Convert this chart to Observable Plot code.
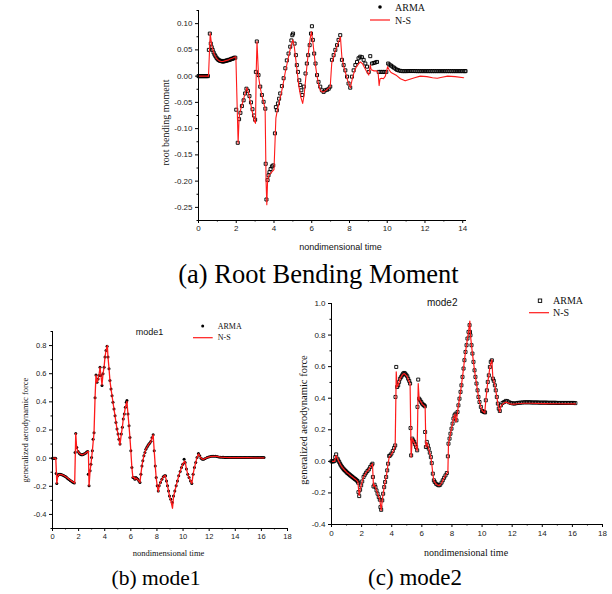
<!DOCTYPE html>
<html><head><meta charset="utf-8">
<script src="https://cdn.jsdelivr.net/npm/d3@7"></script>
<script src="https://cdn.jsdelivr.net/npm/@observablehq/plot@0.6"></script>
<style>
body{margin:0;background:#fff}
#fig{position:relative;width:612px;height:594px;background:#fff;overflow:hidden}
.panel{position:absolute}
</style></head><body><div id="fig"></div>
<script>
// ---------- series names ----------
const seriesNames = ["ARMA", "N-S"];
const captions = ["(a) Root Bending Moment", "(b) mode1", "(c) mode2"];
const panelTitles = ["", "mode1", "mode2"];
const xTitle = "nondimensional time";
const yTitles = ["root bending moment", "generalized aerodynamic force", "generalized aerodynamic force"];

// ---------- tick values ----------
const xTicksA = [0, 2, 4, 6, 8, 10, 12, 14];
const xMinorA = [1, 3, 5, 7, 9, 11, 13];
const yTicksA = [-0.25, -0.20, -0.15, -0.10, -0.05, 0.00, 0.05, 0.10];
const yMinorA = [-0.275, -0.225, -0.175, -0.125, -0.075, -0.025, 0.025, 0.075, 0.125];
const xTicksBC = [0, 2, 4, 6, 8, 10, 12, 14, 16, 18];
const xMinorBC = [1, 3, 5, 7, 9, 11, 13, 15, 17];
const yTicksB = [-0.4, -0.2, 0.0, 0.2, 0.4, 0.6, 0.8];
const yMinorB = [-0.5, -0.3, -0.1, 0.1, 0.3, 0.5, 0.7, 0.9];
const yTicksC = [-0.4, -0.2, 0.0, 0.2, 0.4, 0.6, 0.8, 1.0];
const yMinorC = [-0.3, -0.1, 0.1, 0.3, 0.5, 0.7, 0.9];
const xDomainA = [0, 14.2], yDomainA = [-0.275, 0.125];
const xDomainB = [0, 18], yDomainB = [-0.5, 0.9];
const xDomainC = [0, 18], yDomainC = [-0.4, 1.0];

// ---------- (a) root bending moment ----------
const nsA = [[0,0],[0.53,0],[0.62,0.082],[0.7,0.058],[0.8,0.045],[0.9,0.037],[1.0,0.032],[1.1,0.029],[1.2,0.028],[1.3,0.028],[1.4,0.029],[1.5,0.03],[1.6,0.031],[1.7,0.033],[1.8,0.034],[1.9,0.036],[1.98,0.037],[2.05,-0.06],[2.1,-0.128],[2.15,-0.08],[2.2,-0.068],[2.3,-0.055],[2.4,-0.042],[2.5,-0.03],[2.56,-0.022],[2.65,-0.032],[2.75,-0.05],[2.85,-0.068],[2.95,-0.085],[3.02,-0.09],[3.06,0.01],[3.1,0.066],[3.18,0.0],[3.27,-0.022],[3.36,-0.037],[3.45,-0.05],[3.53,-0.062],[3.58,-0.2],[3.62,-0.245],[3.66,-0.2],[3.72,-0.19],[3.8,-0.186],[3.9,-0.182],[4.0,-0.178],[4.06,-0.12],[4.1,-0.08],[4.15,-0.07],[4.22,-0.058],[4.3,-0.045],[4.4,-0.03],[4.5,-0.012],[4.6,0.008],[4.7,0.025],[4.8,0.042],[4.9,0.058],[5.0,0.069],[5.08,0.055],[5.16,0.03],[5.24,0.005],[5.32,-0.02],[5.42,-0.04],[5.52,-0.052],[5.6,-0.035],[5.68,-0.005],[5.76,0.025],[5.84,0.05],[5.92,0.072],[5.98,0.085],[6.05,0.068],[6.12,0.045],[6.2,0.02],[6.28,0.0],[6.36,-0.015],[6.45,-0.027],[6.55,-0.03],[6.65,-0.03],[6.75,-0.027],[6.85,-0.024],[6.98,-0.02],[7.06,0.025],[7.15,0.035],[7.25,0.048],[7.35,0.058],[7.45,0.068],[7.52,0.075],[7.6,0.035],[7.7,0.018],[7.8,0.005],[7.9,-0.008],[8.0,-0.018],[8.05,-0.022],[8.15,-0.005],[8.25,0.008],[8.35,0.017],[8.45,0.022],[8.57,0.027],[8.68,0.024],[8.8,0.016],[8.92,0.008],[9.02,0.002],[9.1,0.021],[9.15,0.012],[9.3,0.01],[9.45,0.01],[9.52,0.005],[9.57,-0.018],[9.62,-0.005],[9.7,-0.004],[9.8,-0.005],[9.9,0.0],[10.02,0.018],[10.1,0.012],[10.2,0.007],[10.35,0.004],[10.5,0.001],[10.7,-0.005],[10.95,-0.009],[11.2,-0.006],[11.45,-0.003],[11.75,0.0],[12.1,-0.001],[12.4,-0.003],[12.65,-0.004],[12.9,-0.002],[13.2,0.0],[13.6,-0.001],[14.05,-0.003]];
const armaA = [[0,0],[0.05,0],[0.1,0],[0.15,0],[0.2,0],[0.25,0],[0.3,0],[0.35,0],[0.4,0],[0.45,0],[0.5,0],[0.55,0.05],[0.6,0.081],[0.65,0.062],[0.7,0.055],[0.75,0.05],[0.8,0.045],[0.85,0.041],[0.9,0.038],[0.95,0.035],[1.0,0.033],[1.05,0.031],[1.1,0.03],[1.15,0.029],[1.2,0.029],[1.25,0.028],[1.3,0.028],[1.35,0.028],[1.4,0.029],[1.45,0.029],[1.5,0.03],[1.55,0.03],[1.6,0.031],[1.65,0.031],[1.7,0.032],[1.75,0.033],[1.8,0.033],[1.85,0.034],[1.9,0.035],[1.95,0.035],[2.0,-0.064],[2.08,-0.127],[2.15,-0.082],[2.22,-0.07],[2.3,-0.057],[2.39,-0.046],[2.47,-0.033],[2.54,-0.024],[2.62,-0.028],[2.7,-0.038],[2.78,-0.05],[2.86,-0.063],[2.94,-0.075],[3.0,-0.083],[3.04,0.008],[3.09,0.066],[3.18,0.002],[3.27,-0.02],[3.36,-0.036],[3.45,-0.049],[3.54,-0.062],[3.56,-0.167],[3.6,-0.235],[3.66,-0.198],[3.71,-0.189],[3.76,-0.183],[3.82,-0.177],[3.89,-0.172],[3.96,-0.17],[4.05,-0.109],[4.1,-0.059],[4.15,-0.065],[4.21,-0.052],[4.27,-0.043],[4.33,-0.033],[4.42,-0.019],[4.51,-0.004],[4.6,0.015],[4.68,0.03],[4.77,0.043],[4.86,0.056],[4.92,0.068],[4.97,0.078],[5.01,0.081],[5.09,0.062],[5.16,0.04],[5.21,0.021],[5.27,0.008],[5.34,-0.008],[5.39,-0.017],[5.45,-0.027],[5.5,-0.036],[5.58,-0.02],[5.67,0.005],[5.74,0.024],[5.81,0.04],[5.89,0.059],[5.96,0.081],[6.01,0.095],[6.06,0.069],[6.13,0.043],[6.2,0.024],[6.28,0.002],[6.36,-0.011],[6.45,-0.02],[6.54,-0.027],[6.63,-0.03],[6.72,-0.027],[6.81,-0.026],[6.9,-0.024],[6.98,-0.02],[7.07,0.031],[7.16,0.04],[7.25,0.05],[7.34,0.059],[7.42,0.069],[7.51,0.078],[7.6,0.031],[7.69,0.021],[7.78,0.011],[7.87,-0.001],[7.95,-0.014],[8.04,-0.022],[8.13,-0.001],[8.22,0.011],[8.31,0.021],[8.4,0.027],[8.48,0.034],[8.57,0.037],[8.66,0.036],[8.75,0.031],[8.84,0.024],[8.93,0.018],[9.02,0.008],[9.1,0.038],[9.19,0.024],[9.28,0.025],[9.37,0.026],[9.46,0.027],[9.55,0.008],[9.65,0.008],[9.75,0.008],[9.85,0.008],[9.95,0.008],[10.05,0.024],[10.12,0.022],[10.2,0.02],[10.28,0.018],[10.36,0.016],[10.44,0.014],[10.52,0.012],[10.6,0.011],[10.7,0.01],[10.8,0.0095],[10.9,0.0095],[11.0,0.0095],[11.1,0.0096],[11.2,0.0097],[11.3,0.0097],[11.4,0.0097],[11.5,0.0096],[11.6,0.0095],[11.7,0.0095],[11.8,0.0095],[11.9,0.0095],[12.0,0.0095],[12.1,0.0095],[12.2,0.0095],[12.3,0.0095],[12.4,0.0095],[12.5,0.0095],[12.6,0.0095],[12.7,0.0095],[12.8,0.0095],[12.9,0.0095],[13.0,0.0095],[13.1,0.0095],[13.2,0.0095],[13.3,0.0095],[13.4,0.0095],[13.5,0.0095],[13.6,0.0095],[13.7,0.0095],[13.8,0.0095],[13.9,0.0095],[14.0,0.0095],[14.1,0.0095],[14.15,0.0095]];

// ---------- (b) mode1 ----------
const nsB = [[0,0],[0.25,0],[0.3,-0.11],[0.33,-0.18],[0.4,-0.13],[0.5,-0.115],[0.7,-0.117],[0.9,-0.125],[1.1,-0.138],[1.3,-0.152],[1.5,-0.165],[1.7,-0.177],[1.75,0.04],[1.78,0.176],[1.85,0.076],[1.95,0.045],[2.1,0.03],[2.3,0.024],[2.5,0.033],[2.7,0.048],[2.75,0.048],[2.8,-0.197],[2.88,-0.09],[2.95,-0.04],[3.05,0.05],[3.18,0.18],[3.26,0.43],[3.33,0.59],[3.41,0.54],[3.49,0.56],[3.56,0.59],[3.64,0.646],[3.72,0.58],[3.79,0.52],[3.87,0.6],[3.95,0.646],[4.02,0.718],[4.1,0.765],[4.2,0.8],[4.25,0.72],[4.33,0.635],[4.4,0.551],[4.48,0.492],[4.56,0.444],[4.63,0.397],[4.71,0.349],[4.79,0.302],[4.86,0.254],[4.94,0.207],[5.02,0.171],[5.09,0.135],[5.17,0.095],[5.27,0.171],[5.35,0.219],[5.42,0.278],[5.5,0.314],[5.58,0.361],[5.7,0.404],[5.78,0.314],[5.86,0.23],[5.93,0.147],[6.0,0.052],[6.08,-0.067],[6.16,-0.138],[6.25,-0.135],[6.31,-0.15],[6.39,-0.14],[6.5,-0.15],[6.62,-0.162],[6.7,-0.173],[6.77,-0.114],[6.85,-0.055],[6.92,-0.019],[7.0,0.017],[7.08,0.04],[7.15,0.064],[7.26,0.081],[7.38,0.1],[7.51,0.112],[7.64,0.147],[7.71,0.166],[7.79,0.052],[7.87,-0.055],[7.94,-0.138],[8.02,-0.197],[8.1,-0.238],[8.17,-0.197],[8.27,-0.173],[8.38,-0.15],[8.48,-0.133],[8.62,-0.121],[8.73,-0.162],[8.81,-0.197],[8.89,-0.233],[8.96,-0.269],[9.06,-0.3],[9.19,-0.356],[9.27,-0.275],[9.37,-0.235],[9.47,-0.197],[9.57,-0.162],[9.67,-0.126],[9.78,-0.095],[9.88,-0.067],[9.98,-0.043],[10.12,-0.02],[10.18,-0.035],[10.26,-0.078],[10.36,-0.114],[10.46,-0.138],[10.57,-0.162],[10.68,-0.18],[10.77,-0.114],[10.87,-0.067],[10.97,-0.031],[11.07,0.005],[11.18,0.03],[11.28,0.015],[11.38,0.0],[11.48,-0.007],[11.58,-0.008],[11.7,-0.002],[11.84,0.004],[12.09,0.011],[12.35,0.013],[12.6,0.012],[12.86,0.007],[13.2,0.005],[13.6,0.004],[14.0,0.004],[14.5,0.003],[15.0,0.003],[15.5,0.002],[16.2,0.002]];
const armaB = [[0,0],[0.08,0],[0.16,0],[0.24,0],[0.28,-0.11],[0.33,-0.18],[0.4,-0.126],[0.5,-0.114],[0.58,-0.114],[0.66,-0.116],[0.76,-0.119],[0.85,-0.124],[0.94,-0.129],[1.02,-0.133],[1.1,-0.14],[1.18,-0.146],[1.27,-0.152],[1.36,-0.158],[1.45,-0.164],[1.53,-0.169],[1.6,-0.173],[1.67,-0.176],[1.73,0.04],[1.78,0.176],[1.86,0.076],[1.96,0.048],[2.05,0.035],[2.13,0.028],[2.21,0.025],[2.29,0.024],[2.37,0.027],[2.45,0.031],[2.55,0.036],[2.62,0.043],[2.7,0.048],[2.74,-0.114],[2.8,-0.197],[2.88,-0.09],[2.94,-0.043],[2.99,0.005],[3.05,0.052],[3.11,0.135],[3.18,0.18],[3.26,0.43],[3.33,0.59],[3.41,0.54],[3.49,0.563],[3.56,0.587],[3.64,0.646],[3.71,0.587],[3.79,0.516],[3.87,0.6],[3.95,0.646],[4.02,0.718],[4.1,0.765],[4.18,0.796],[4.25,0.718],[4.33,0.635],[4.4,0.551],[4.48,0.492],[4.56,0.444],[4.63,0.397],[4.71,0.349],[4.79,0.302],[4.86,0.254],[4.94,0.207],[5.02,0.171],[5.09,0.135],[5.17,0.1],[5.27,0.171],[5.35,0.219],[5.42,0.278],[5.5,0.314],[5.58,0.361],[5.65,0.397],[5.7,0.409],[5.78,0.314],[5.86,0.23],[5.93,0.147],[6.0,0.052],[6.08,-0.067],[6.16,-0.138],[6.23,-0.138],[6.31,-0.15],[6.39,-0.138],[6.47,-0.145],[6.55,-0.152],[6.62,-0.162],[6.7,-0.173],[6.77,-0.114],[6.85,-0.055],[6.92,-0.019],[7.0,0.017],[7.08,0.04],[7.15,0.064],[7.23,0.078],[7.31,0.09],[7.38,0.1],[7.46,0.108],[7.54,0.12],[7.62,0.145],[7.71,0.166],[7.79,0.052],[7.87,-0.055],[7.94,-0.138],[8.02,-0.197],[8.1,-0.233],[8.17,-0.197],[8.27,-0.173],[8.38,-0.15],[8.48,-0.133],[8.58,-0.126],[8.66,-0.126],[8.73,-0.162],[8.81,-0.197],[8.89,-0.233],[8.96,-0.269],[9.06,-0.292],[9.17,-0.316],[9.27,-0.269],[9.37,-0.233],[9.47,-0.197],[9.57,-0.162],[9.67,-0.126],[9.78,-0.095],[9.88,-0.067],[9.98,-0.043],[10.08,-0.007],[10.16,-0.031],[10.26,-0.078],[10.36,-0.114],[10.46,-0.138],[10.57,-0.162],[10.67,-0.18],[10.77,-0.114],[10.87,-0.067],[10.97,-0.031],[11.07,0.005],[11.18,0.033],[11.28,0.017],[11.38,0.0],[11.48,-0.007],[11.58,-0.007],[11.7,-0.002],[11.84,0.005],[11.96,0.009],[12.09,0.012],[12.22,0.013],[12.35,0.014],[12.48,0.013],[12.6,0.012],[12.73,0.009],[12.86,0.007],[13.0,0.006],[13.1,0.006],[13.2,0.005],[13.3,0.005],[13.4,0.005],[13.5,0.005],[13.6,0.005],[13.7,0.005],[13.8,0.005],[13.9,0.005],[14.0,0.005],[14.1,0.005],[14.2,0.005],[14.3,0.005],[14.4,0.005],[14.5,0.005],[14.6,0.005],[14.7,0.005],[14.8,0.005],[14.9,0.005],[15.0,0.005],[15.1,0.004],[15.2,0.004],[15.3,0.004],[15.4,0.004],[15.5,0.004],[15.6,0.004],[15.7,0.004],[15.8,0.004],[15.9,0.004],[16.0,0.004],[16.1,0.004],[16.2,0.004]];

// ---------- (c) mode2 ----------
const nsC = [[0,0],[0.2,0],[0.3,0.038],[0.4,0.017],[0.51,-0.004],[0.62,-0.025],[0.73,-0.04],[0.84,-0.053],[0.95,-0.063],[1.06,-0.074],[1.17,-0.082],[1.28,-0.091],[1.39,-0.099],[1.51,-0.108],[1.62,-0.116],[1.75,-0.13],[1.84,-0.216],[1.9,-0.18],[1.97,-0.152],[2.04,-0.127],[2.13,-0.099],[2.21,-0.085],[2.3,-0.072],[2.39,-0.061],[2.48,-0.051],[2.57,-0.036],[2.66,-0.023],[2.72,-0.015],[2.79,-0.159],[2.86,-0.148],[2.92,-0.163],[2.99,-0.184],[3.06,-0.205],[3.14,-0.226],[3.21,-0.243],[3.3,-0.311],[3.37,-0.247],[3.43,-0.205],[3.5,-0.163],[3.56,-0.131],[3.63,-0.099],[3.7,-0.057],[3.76,-0.015],[3.83,0.025],[3.9,0.035],[3.98,0.045],[4.07,0.06],[4.16,0.078],[4.23,0.095],[4.3,0.567],[4.36,0.471],[4.43,0.482],[4.49,0.503],[4.56,0.524],[4.63,0.535],[4.69,0.545],[4.76,0.553],[4.83,0.556],[4.89,0.552],[4.96,0.545],[5.03,0.535],[5.09,0.52],[5.16,0.505],[5.22,0.49],[5.29,0.027],[5.36,0.144],[5.42,0.133],[5.49,0.12],[5.56,0.105],[5.62,0.088],[5.69,0.066],[5.76,0.493],[5.82,0.397],[5.89,0.385],[5.96,0.374],[6.02,0.364],[6.09,0.357],[6.15,0.352],[6.22,0.345],[6.27,0.09],[6.33,0.12],[6.4,0.098],[6.46,0.078],[6.53,0.052],[6.6,0.025],[6.66,-0.015],[6.73,-0.08],[6.8,-0.122],[6.86,-0.133],[6.95,-0.144],[7.04,-0.15],[7.13,-0.154],[7.22,-0.15],[7.31,-0.137],[7.39,-0.122],[7.48,-0.106],[7.57,-0.09],[7.66,-0.075],[7.73,-0.068],[7.77,0.112],[7.84,0.144],[7.9,0.175],[7.97,0.207],[8.04,0.239],[8.1,0.271],[8.17,0.292],[8.2,0.3],[8.26,0.249],[8.3,0.26],[8.37,0.313],[8.43,0.355],[8.5,0.397],[8.57,0.44],[8.63,0.482],[8.7,0.535],[8.77,0.588],[8.83,0.641],[8.9,0.693],[8.97,0.736],[9.03,0.778],[9.1,0.82],[9.19,0.888],[9.23,0.799],[9.3,0.736],[9.36,0.683],[9.43,0.63],[9.5,0.577],[9.56,0.535],[9.63,0.493],[9.7,0.45],[9.76,0.408],[9.83,0.376],[9.92,0.345],[10.0,0.325],[10.1,0.312],[10.18,0.307],[10.25,0.387],[10.32,0.45],[10.38,0.503],[10.45,0.545],[10.52,0.598],[10.65,0.645],[10.72,0.524],[10.78,0.51],[10.85,0.482],[10.91,0.45],[10.98,0.408],[11.05,0.366],[11.11,0.334],[11.18,0.313],[11.25,0.35],[11.36,0.362],[11.47,0.37],[11.58,0.375],[11.69,0.372],[11.8,0.367],[11.91,0.363],[12.13,0.362],[12.35,0.365],[12.8,0.368],[13.24,0.368],[14.12,0.366],[15.0,0.365],[16.2,0.364]];
const armaC = [[0,0],[0.07,0],[0.14,0],[0.21,0.004],[0.25,0.027],[0.31,0.044],[0.4,0.017],[0.45,0.006],[0.51,-0.004],[0.57,-0.015],[0.62,-0.025],[0.68,-0.033],[0.73,-0.04],[0.79,-0.047],[0.84,-0.053],[0.9,-0.058],[0.95,-0.063],[1.01,-0.069],[1.06,-0.074],[1.12,-0.078],[1.17,-0.082],[1.23,-0.087],[1.28,-0.091],[1.34,-0.095],[1.39,-0.099],[1.45,-0.104],[1.51,-0.108],[1.56,-0.112],[1.62,-0.116],[1.68,-0.121],[1.73,-0.125],[1.77,-0.135],[1.79,-0.195],[1.84,-0.22],[1.9,-0.18],[1.97,-0.152],[2.04,-0.127],[2.13,-0.099],[2.21,-0.085],[2.3,-0.072],[2.39,-0.061],[2.48,-0.051],[2.57,-0.036],[2.66,-0.023],[2.72,-0.015],[2.75,-0.099],[2.79,-0.159],[2.86,-0.148],[2.92,-0.163],[2.99,-0.184],[3.06,-0.205],[3.14,-0.226],[3.21,-0.243],[3.25,-0.29],[3.3,-0.307],[3.37,-0.247],[3.43,-0.205],[3.5,-0.163],[3.56,-0.131],[3.63,-0.099],[3.7,-0.057],[3.76,-0.015],[3.83,0.034],[3.9,0.038],[3.98,0.049],[4.07,0.066],[4.16,0.085],[4.23,0.101],[4.25,0.408],[4.3,0.598],[4.36,0.471],[4.43,0.482],[4.49,0.503],[4.56,0.524],[4.63,0.535],[4.69,0.545],[4.76,0.556],[4.83,0.56],[4.89,0.556],[4.96,0.548],[5.03,0.539],[5.09,0.524],[5.16,0.51],[5.22,0.493],[5.25,0.211],[5.29,0.038],[5.36,0.144],[5.42,0.133],[5.49,0.123],[5.56,0.108],[5.62,0.091],[5.69,0.07],[5.71,0.345],[5.76,0.518],[5.82,0.397],[5.89,0.387],[5.96,0.376],[6.02,0.366],[6.09,0.359],[6.15,0.355],[6.2,0.349],[6.22,0.186],[6.27,0.091],[6.33,0.123],[6.4,0.101],[6.46,0.08],[6.53,0.055],[6.6,0.027],[6.66,-0.011],[6.73,-0.078],[6.8,-0.12],[6.86,-0.131],[6.95,-0.142],[7.04,-0.148],[7.13,-0.152],[7.22,-0.148],[7.31,-0.135],[7.39,-0.12],[7.48,-0.104],[7.57,-0.089],[7.66,-0.074],[7.73,0.032],[7.77,0.112],[7.84,0.144],[7.9,0.175],[7.97,0.207],[8.04,0.239],[8.1,0.271],[8.17,0.292],[8.24,0.302],[8.3,0.26],[8.37,0.313],[8.43,0.355],[8.5,0.397],[8.57,0.44],[8.63,0.482],[8.7,0.535],[8.77,0.588],[8.83,0.641],[8.9,0.693],[8.97,0.736],[9.03,0.778],[9.1,0.82],[9.17,0.863],[9.2,0.82],[9.23,0.799],[9.3,0.736],[9.36,0.683],[9.43,0.63],[9.5,0.577],[9.56,0.535],[9.63,0.493],[9.7,0.45],[9.76,0.408],[9.83,0.376],[9.92,0.345],[10.0,0.319],[10.07,0.316],[10.14,0.313],[10.2,0.31],[10.25,0.387],[10.32,0.45],[10.38,0.503],[10.45,0.545],[10.52,0.598],[10.58,0.63],[10.65,0.64],[10.72,0.524],[10.78,0.51],[10.85,0.482],[10.91,0.45],[10.98,0.408],[11.05,0.366],[11.11,0.334],[11.18,0.319],[11.25,0.355],[11.36,0.37],[11.47,0.376],[11.58,0.383],[11.69,0.381],[11.8,0.374],[11.91,0.37],[12.02,0.368],[12.13,0.366],[12.24,0.368],[12.35,0.37],[12.46,0.371],[12.57,0.372],[12.68,0.373],[12.8,0.374],[12.9,0.374],[13.0,0.374],[13.1,0.374],[13.2,0.374],[13.3,0.373],[13.4,0.373],[13.5,0.373],[13.6,0.373],[13.7,0.373],[13.8,0.372],[13.9,0.372],[14.0,0.372],[14.1,0.372],[14.2,0.372],[14.3,0.372],[14.4,0.371],[14.5,0.371],[14.6,0.371],[14.7,0.371],[14.8,0.371],[14.9,0.371],[15.0,0.37],[15.1,0.37],[15.2,0.37],[15.3,0.37],[15.4,0.37],[15.5,0.37],[15.6,0.37],[15.7,0.37],[15.8,0.37],[15.9,0.37],[16.0,0.37],[16.1,0.37],[16.2,0.369]];

// ---------- rendering ----------
const serif = "'Liberation Serif','Times New Roman',serif";
const sans = "'Liberation Sans',Arial,sans-serif";
const red = "#ff1a1a";
const fig = document.getElementById("fig");

function panel(c) {
  const marks = [
    Plot.dot(c.arma, Object.assign({x: d => d[0], y: d => d[1]}, c.dotStyle)),
    Plot.line(c.ns, {x: d => d[0], y: d => d[1], stroke: red, strokeWidth: c.lineWidth}),
    Plot.ruleX([c.xDomain[0]], {stroke: "#000", strokeWidth: 1}),
    Plot.ruleY([c.yDomain[0]], {stroke: "#000", strokeWidth: 1}),
    Plot.axisX(c.xTicks, {tickSize: 3, tickPadding: c.xPad, tickFormat: d => String(d), label: null, fontSize: c.tickFont, fontFamily: sans, fill: "#222"}),
    Plot.axisX(c.xMinor, {tickSize: 1.5, tickFormat: () => "", label: null}),
    Plot.axisY(c.yTicks, {tickSize: 3, tickPadding: c.yPad, tickFormat: d => d.toFixed(c.digits), label: null, fontSize: c.tickFont, fontFamily: sans, fill: "#222"}),
    Plot.axisY(c.yMinor, {tickSize: 1.5, tickFormat: () => "", label: null}),
    Plot.text([c.yTitle], {text: d => d, frameAnchor: "left", rotate: -90, dx: c.yTitlePos[0], dy: c.yTitlePos[1], textAnchor: "middle", lineAnchor: "middle", fontFamily: serif, fontSize: c.yTitleFont, fill: "#111"}),
    Plot.text([xTitle], {text: d => d, frameAnchor: "bottom", dx: c.xTitlePos[0], dy: c.xTitlePos[1], textAnchor: "middle", lineAnchor: "middle", fontFamily: c.xTitleFamily, fontSize: c.xTitleFont, fill: "#111"})
  ];
  if (c.title) marks.push(Plot.text([c.title], {text: d => d, frameAnchor: "top", dx: c.titlePos[0], dy: c.titlePos[1], textAnchor: "middle", lineAnchor: "middle", fontFamily: sans, fontSize: c.titleFont, fill: "#111"}));
  const svg = Plot.plot({
    width: c.width, height: c.height,
    marginTop: c.m[0], marginRight: c.m[1], marginBottom: c.m[2], marginLeft: c.m[3],
    x: {domain: c.xDomain}, y: {domain: c.yDomain},
    style: {background: "transparent", color: "#000", fontFamily: sans, overflow: "visible"},
    marks
  });
  const holder = document.createElement("div");
  holder.className = "panel";
  holder.style.left = c.left + "px";
  holder.style.top = c.top + "px";
  holder.appendChild(svg);
  fig.appendChild(holder);
}

panel({left: 150, top: 0, width: 320, height: 260, m: [10, 4, 40, 48],
  xDomain: xDomainA, yDomain: yDomainA, xTicks: xTicksA, xMinor: xMinorA, yTicks: yTicksA, yMinor: yMinorA,
  digits: 2, tickFont: 8, xPad: 2, yPad: 3, ns: nsA, arma: armaA, lineWidth: 1.1,
  dotStyle: {symbol: "square", r: 1.7, stroke: "#000", strokeWidth: 0.95, fill: "none"},
  yTitle: yTitles[0], yTitlePos: [-33, 7], yTitleFont: 10,
  xTitlePos: [8, 27], xTitleFont: 9, xTitleFamily: sans, title: panelTitles[0]});

panel({left: 0, top: 300, width: 300, height: 260, m: [31, 13, 32, 52],
  xDomain: xDomainB, yDomain: yDomainB, xTicks: xTicksBC, xMinor: xMinorBC, yTicks: yTicksB, yMinor: yMinorB,
  digits: 1, tickFont: 7.5, xPad: 2, yPad: 3, ns: nsB, arma: armaB, lineWidth: 1.3,
  dotStyle: {symbol: "circle", r: 1.5, fill: "#000"},
  yTitle: yTitles[1], yTitlePos: [-27, 0], yTitleFont: 8.5,
  xTitlePos: [-1.5, 25], xTitleFont: 8.5, xTitleFamily: serif,
  title: panelTitles[1], titlePos: [-20.5, 1], titleFont: 9});

panel({left: 290, top: 290, width: 322, height: 270, m: [13, 10, 36, 41],
  xDomain: xDomainC, yDomain: yDomainC, xTicks: xTicksBC, xMinor: xMinorBC, yTicks: yTicksC, yMinor: yMinorC,
  digits: 1, tickFont: 8, xPad: 3, yPad: 3, ns: nsC, arma: armaC, lineWidth: 1.2,
  dotStyle: {symbol: "square", r: 1.7, stroke: "#000", strokeWidth: 0.9, fill: "none"},
  yTitle: yTitles[2], yTitlePos: [-28.3, 6], yTitleFont: 10.5,
  xTitlePos: [-1, 28], xTitleFont: 10, xTitleFamily: serif,
  title: panelTitles[2], titlePos: [-24.8, -1], titleFont: 10});

// ---------- legends and captions ----------
const ov = d3.select(fig).append("svg")
  .attr("width", 612).attr("height", 594)
  .style("position", "absolute").style("left", "0px").style("top", "0px").style("pointer-events", "none");

const legends = [
  {mx: 380, my: 7, lx1: 370, lx2: 390, ly: 20, tx: 395, font: 10, marker: "dot", mr: 1.8},
  {mx: 202.7, my: 326, lx1: 193, lx2: 212.7, ly: 337.7, tx: 217.7, font: 8, marker: "dot", mr: 1.5},
  {mx: 540, my: 300.7, lx1: 529, lx2: 549, ly: 312.7, tx: 553, font: 10, marker: "square", mr: 1.7}
];
legends.forEach(L => {
  if (L.marker === "dot") ov.append("circle").attr("cx", L.mx).attr("cy", L.my).attr("r", L.mr).attr("fill", "#000");
  else ov.append("rect").attr("x", L.mx - L.mr).attr("y", L.my - L.mr).attr("width", 2 * L.mr).attr("height", 2 * L.mr).attr("fill", "none").attr("stroke", "#000").attr("stroke-width", 0.9);
  ov.append("line").attr("x1", L.lx1).attr("x2", L.lx2).attr("y1", L.ly).attr("y2", L.ly).attr("stroke", red).attr("stroke-width", 1.2);
  ov.append("text").attr("x", L.tx).attr("y", L.my).attr("dominant-baseline", "central").attr("font-family", serif).attr("font-size", L.font).attr("fill", "#111").text(seriesNames[0]);
  ov.append("text").attr("x", L.tx).attr("y", L.ly).attr("dominant-baseline", "central").attr("font-family", serif).attr("font-size", L.font).attr("fill", "#111").text(seriesNames[1]);
});

const capPos = [
  {x: 318.5, y: 283, size: 26.5, anchor: "middle"},
  {x: 156, y: 585, size: 21.5, anchor: "middle"},
  {x: 462, y: 585, size: 23, anchor: "end"}
];
capPos.forEach((p, i) => {
  ov.append("text").attr("x", p.x).attr("y", p.y).attr("text-anchor", p.anchor)
    .attr("font-family", serif).attr("font-size", p.size).attr("fill", "#000").text(captions[i]);
});
</script></body></html>
